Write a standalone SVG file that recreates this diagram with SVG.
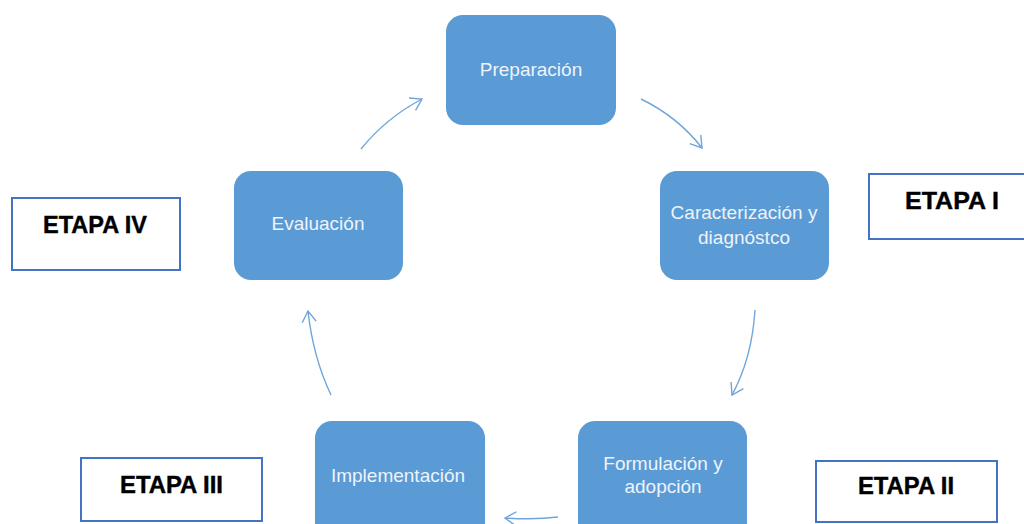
<svg xmlns="http://www.w3.org/2000/svg" width="1024" height="524" viewBox="0 0 1024 524">
<style>
.node rect{fill:#5b9bd5}
.node text{fill:#eef3fa;font-family:"Liberation Sans",Arial,sans-serif;font-size:19px;text-anchor:middle}
.etapa rect{fill:#fff;stroke:#4472c4;stroke-width:2}
.etapa text{fill:#000;font-family:"Liberation Sans",Arial,sans-serif;font-weight:bold;font-size:23px;stroke:#000;stroke-width:0.4}
.conn path{fill:none;stroke:#6fa5db;stroke-width:1.4}
</style>
<defs>
<marker id="ah" markerUnits="userSpaceOnUse" markerWidth="16" markerHeight="16" refX="13" refY="8" orient="auto">
<path d="M2,1 L13,8 L2,15" fill="none" stroke="#6fa5db" stroke-width="1.4"/>
</marker>
</defs>
<rect width="1024" height="524" fill="#fff"/>
<g id="n-preparacion" class="node"><rect x="446" y="15" width="170" height="110" rx="17"/><text x="531" y="76">Preparación</text></g>
<g id="n-caracterizacion" class="node"><rect x="660" y="171" width="169" height="109" rx="17"/><text x="744" y="219">Caracterización y</text><text x="744" y="244">diagnóstco</text></g>
<g id="n-formulacion" class="node"><rect x="578" y="421" width="169" height="120" rx="17"/><text x="663" y="470">Formulación y</text><text x="663" y="493">adopción</text></g>
<g id="n-implementacion" class="node"><rect x="315" y="421" width="170" height="120" rx="17"/><text x="398" y="482">Implementación</text></g>
<g id="n-evaluacion" class="node"><rect x="234" y="171" width="169" height="109" rx="17"/><text x="318" y="230">Evaluación</text></g>
<g id="etapa-i" class="etapa"><rect x="869" y="174" width="160" height="65"/><text x="905" y="209" textLength="94" lengthAdjust="spacingAndGlyphs">ETAPA I</text></g>
<g id="etapa-ii" class="etapa"><rect x="816" y="461" width="181" height="61"/><text x="858" y="494" textLength="96" lengthAdjust="spacingAndGlyphs">ETAPA II</text></g>
<g id="etapa-iii" class="etapa"><rect x="81" y="458" width="181" height="63"/><text x="120" y="493" textLength="103" lengthAdjust="spacingAndGlyphs">ETAPA III</text></g>
<g id="etapa-iv" class="etapa"><rect x="12" y="198" width="168" height="72"/><text x="43" y="233" textLength="104" lengthAdjust="spacingAndGlyphs">ETAPA IV</text></g>
<g id="connectors" class="conn">
<path d="M641,99 Q678,117 702,148" marker-end="url(#ah)"/>
<path d="M755,310 Q752,358 732,395" marker-end="url(#ah)"/>
<path d="M558,517 Q535,520 505,518" marker-end="url(#ah)"/>
<path d="M331,395 Q313,357 308,311" marker-end="url(#ah)"/>
<path d="M361,149 Q386,118 422,99" marker-end="url(#ah)"/>
</g>
</svg>
